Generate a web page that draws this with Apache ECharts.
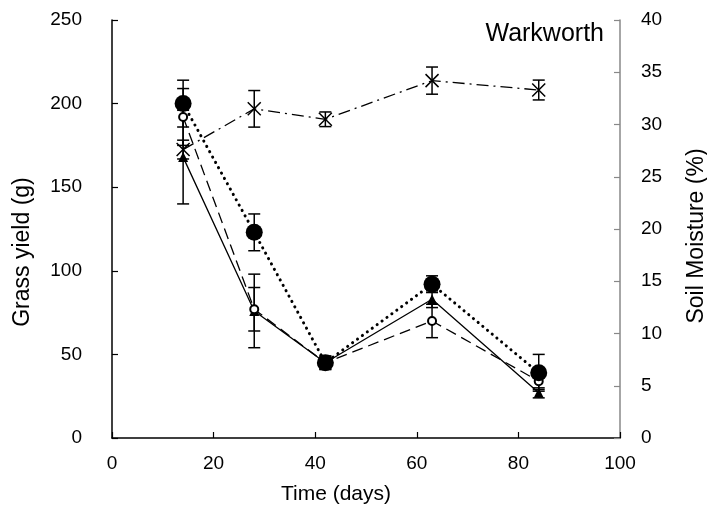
<!DOCTYPE html>
<html>
<head>
<meta charset="utf-8">
<script src="https://cdn.jsdelivr.net/npm/echarts@6/dist/echarts.min.js"></script>
<style>html,body{margin:0;padding:0;background:#fff}#c{width:707px;height:517px}</style>
</head>
<body>
<div id="c"></div>
<script>
const days = [14, 28, 42, 63, 84];
const yieldFilled = [200, 123, 45, 92, 39];
const errFilled = [14, 11, 4, 5, 11];
const yieldOpen = [192, 77, 45, 70, 34];
const errOpen = [17, 13, 3, 10, 5];
const yieldTri = [168, 76, 45, 83, 27];
const errTri = [28, 22, 4, 5, 3];
const moisture = [27.6, 31.5, 30.5, 34.2, 33.3];
const errMoisture = [0.9, 1.75, 0.7, 1.3, 0.95];
const xTicks = { min: 0, max: 100, interval: 20 };
const yLeftTicks = { min: 0, max: 250, interval: 50 };
const yRightTicks = { min: 0, max: 40, interval: 5 };

const FONT = 'Liberation Sans';
const pairs = (ys) => days.map((d, i) => [d, ys[i]]);
const triples = (ys, es) => days.map((d, i) => [d, ys[i], es[i]]);

function errRender(params, api) {
  const x = api.value(0), y = api.value(1), e = api.value(2);
  const top = api.coord([x, y + e]);
  const bot = api.coord([x, y - e]);
  const cw = 6;
  const st = { stroke: '#000', lineWidth: 1.5 };
  return {
    type: 'group',
    children: [
      { type: 'line', shape: { x1: top[0], y1: top[1], x2: bot[0], y2: bot[1] }, style: st },
      { type: 'line', shape: { x1: top[0] - cw, y1: top[1], x2: top[0] + cw, y2: top[1] }, style: st },
      { type: 'line', shape: { x1: bot[0] - cw, y1: bot[1], x2: bot[0] + cw, y2: bot[1] }, style: st }
    ]
  };
}
function errSeries(ys, es, yAxisIndex) {
  return {
    type: 'custom', renderItem: errRender, yAxisIndex: yAxisIndex || 0,
    data: triples(ys, es), z: 1, silent: true,
    encode: { x: 0, y: 1 }
  };
}

const chart = echarts.init(document.getElementById('c'), null, { renderer: 'canvas' });
chart.setOption({
  animation: false,
  backgroundColor: '#fff',
  textStyle: { fontFamily: FONT },
  title: {
    text: 'Warkworth', right: 98, top: 17,
    textStyle: { fontFamily: FONT, fontSize: 25, fontWeight: 'normal', color: '#000' }
  },
  grid: { left: 112, right: 87, top: 20, bottom: 79, containLabel: false, outerBoundsMode: 'none' },
  xAxis: {
    type: 'value', min: xTicks.min, max: xTicks.max, interval: xTicks.interval,
    name: 'Time (days)', nameLocation: 'middle', nameGap: 46,
    nameTextStyle: { fontFamily: FONT, fontSize: 21, color: '#000', padding: [0, 60, 0, 0] },
    axisLine: { show: true, lineStyle: { color: '#000', width: 1.5 } },
    axisTick: { show: true, inside: true, length: 6, lineStyle: { color: '#000', width: 1.2 } },
    axisLabel: { fontFamily: FONT, fontSize: 19, color: '#000', margin: 16 },
    splitLine: { show: false }
  },
  yAxis: [
    {
      type: 'value', min: yLeftTicks.min, max: yLeftTicks.max, interval: yLeftTicks.interval,
      name: 'Grass yield (g)', nameLocation: 'middle', nameGap: 78, nameRotate: 90,
      nameTextStyle: { fontFamily: FONT, fontSize: 23, color: '#000', padding: [0, 46, 0, 0] },
      axisLine: { show: true, lineStyle: { color: '#000', width: 1.5 } },
      axisTick: { show: true, inside: true, length: 6, lineStyle: { color: '#000', width: 1.2 } },
      axisLabel: { fontFamily: FONT, fontSize: 19, color: '#000', margin: 30 },
      splitLine: { show: false }
    },
    {
      type: 'value', min: yRightTicks.min, max: yRightTicks.max, interval: yRightTicks.interval,
      position: 'right',
      name: 'Soil Moisture (%)', nameLocation: 'middle', nameGap: 65, nameRotate: 90,
      nameTextStyle: { fontFamily: FONT, fontSize: 23, color: '#000', padding: [0, 14, 0, 0] },
      axisLine: { show: true, lineStyle: { color: '#888', width: 1.5 } },
      axisTick: { show: true, inside: true, length: 6, lineStyle: { color: '#888', width: 1.2 } },
      axisLabel: { fontFamily: FONT, fontSize: 19, color: '#000', margin: 21 },
      splitLine: { show: false }
    }
  ],
  series: [
    errSeries(yieldFilled, errFilled),
    errSeries(yieldOpen, errOpen),
    errSeries(yieldTri, errTri),
    errSeries(moisture, errMoisture, 1),
    {
      type: 'line', data: pairs(moisture), yAxisIndex: 1, z: 3,
      symbol: 'path://M0,0L10,10M0,10L10,0', symbolSize: 13,
      itemStyle: { color: 'rgba(0,0,0,0)', borderColor: '#000', borderWidth: 1.5 },
      lineStyle: { color: '#000', width: 1.3, type: [12, 5, 2, 5] }
    },
    {
      type: 'line', data: pairs(yieldTri), z: 3,
      symbol: 'triangle', symbolSize: 10,
      itemStyle: { color: '#000' },
      lineStyle: { color: '#000', width: 1.3, type: 'solid' }
    },
    {
      type: 'line', data: pairs(yieldOpen), z: 4,
      symbol: 'emptyCircle', symbolSize: 8,
      itemStyle: { color: '#000', borderColor: '#000', borderWidth: 1.3 },
      lineStyle: { color: '#000', width: 1.3, type: [11, 6] }
    },
    {
      type: 'line', data: pairs(yieldFilled), z: 5,
      symbol: 'circle', symbolSize: 17,
      itemStyle: { color: '#000' },
      lineStyle: { color: '#000', width: 3, type: [0.1, 6], cap: 'round' }
    }
  ]
});
</script>
</body>
</html>
